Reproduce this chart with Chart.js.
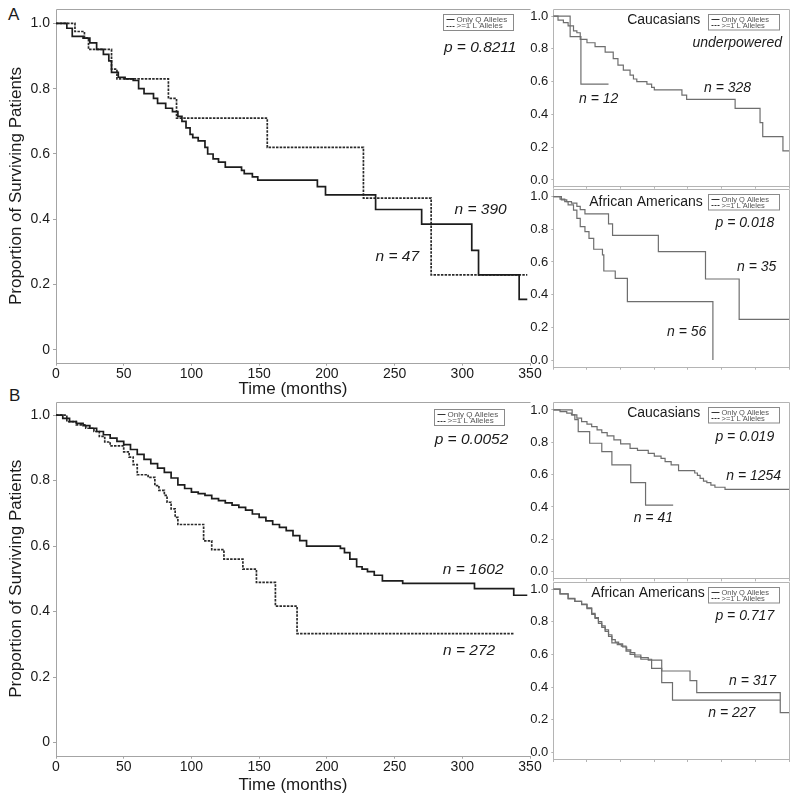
<!DOCTYPE html>
<html lang="en">
<head>
<meta charset="UTF-8">
<title>Survival by allele group</title>
<script src="https://cdn.jsdelivr.net/npm/chart.js"></script>
<style>
  body { margin: 0; width: 800px; height: 797px; position: relative; overflow: hidden; background: #fff;
         font-family: "Liberation Sans", Arial, sans-serif; }
  canvas { position: absolute; }
  .tag { position: absolute; font-size: 17px; line-height: 17px; color: #1a1a1a; }
</style>
</head>
<body>
<div class="tag" style="left:8px;top:6px">A</div>
<div class="tag" style="left:9px;top:387px">B</div>

<script>
// axis ticks
const timeTicks = [0, 50, 100, 150, 200, 250, 300, 350];
const survTicks = [0, 0.2, 0.4, 0.6, 0.8, 1.0];

// A, all patients - only Q alleles (n = 390)
const aAllQTime = [0, 8, 12, 20, 25, 30, 35, 39, 41, 46, 51, 57, 61, 65, 72, 75, 81, 86, 90, 93, 96, 99, 101, 105, 110, 112, 116, 120, 125, 137, 139, 145, 149, 193, 199, 236, 270, 307, 312, 342, 348];
const aAllQSurv = [1, 0.985, 0.96, 0.955, 0.94, 0.92, 0.905, 0.885, 0.85, 0.835, 0.83, 0.825, 0.80, 0.785, 0.77, 0.755, 0.74, 0.73, 0.715, 0.70, 0.68, 0.66, 0.65, 0.64, 0.62, 0.60, 0.585, 0.575, 0.56, 0.55, 0.54, 0.53, 0.52, 0.50, 0.475, 0.43, 0.385, 0.305, 0.23, 0.155, 0.155];
// A, all patients - >=1 L allele (n = 47)
const aAllLTime = [0, 14, 21, 24, 41, 45, 83, 89, 156, 227, 277, 348];
const aAllLSurv = [1, 0.975, 0.955, 0.92, 0.86, 0.83, 0.77, 0.71, 0.62, 0.465, 0.23, 0.23];

// A, Caucasians
const aCauQTime = [0, 7, 15, 22, 30, 35, 40, 50, 62, 77, 89, 96, 104, 114, 119, 124, 139, 146, 150, 191, 198, 270, 307, 311, 341, 350];
const aCauQSurv = [1, 0.975, 0.96, 0.94, 0.91, 0.898, 0.858, 0.837, 0.813, 0.78, 0.74, 0.70, 0.67, 0.64, 0.616, 0.60, 0.585, 0.565, 0.549, 0.518, 0.492, 0.437, 0.35, 0.264, 0.177, 0.177];
const aCauLTime = [0, 25, 41, 82];
const aCauLSurv = [1, 0.875, 0.585, 0.585];

// A, African Americans
const aAfrQTime = [0, 12, 20, 27, 35, 40, 47, 82, 88, 156, 226, 276, 350];
const aAfrQSurv = [1, 0.98, 0.97, 0.96, 0.94, 0.92, 0.895, 0.833, 0.763, 0.663, 0.496, 0.249, 0.249];
const aAfrLTime = [0, 10, 17, 22, 30, 35, 40, 47, 53, 60, 73, 75, 92, 110, 237];
const aAfrLSurv = [1, 0.985, 0.97, 0.95, 0.918, 0.867, 0.816, 0.786, 0.745, 0.678, 0.643, 0.545, 0.50, 0.357, 0];

// B, all patients - only Q alleles (n = 1602)
const bAllQTime = [0, 5, 10, 15, 20, 25, 30, 35, 40, 45, 50, 55, 60, 65, 70, 75, 80, 85, 90, 95, 100, 105, 110, 115, 120, 125, 130, 135, 140, 145, 150, 155, 160, 165, 170, 175, 180, 185, 210, 213, 217, 222, 226, 230, 235, 241, 256, 309, 338, 348];
const bAllQSurv = [1, 0.99, 0.98, 0.975, 0.968, 0.96, 0.95, 0.94, 0.93, 0.92, 0.91, 0.895, 0.88, 0.865, 0.852, 0.838, 0.825, 0.808, 0.787, 0.776, 0.765, 0.76, 0.755, 0.745, 0.739, 0.732, 0.725, 0.718, 0.71, 0.698, 0.688, 0.677, 0.666, 0.657, 0.647, 0.632, 0.617, 0.60, 0.593, 0.58, 0.56, 0.537, 0.53, 0.522, 0.511, 0.494, 0.486, 0.47, 0.45, 0.45];
// B, all patients - >=1 L allele (n = 272)
const bAllLTime = [0, 8, 15, 22, 28, 32, 36, 40, 50, 54, 57, 60, 68, 73, 76, 80, 82, 85, 88, 90, 109, 115, 124, 138, 148, 162, 178, 338];
const bAllLSurv = [1, 0.98, 0.97, 0.96, 0.95, 0.935, 0.918, 0.906, 0.888, 0.872, 0.849, 0.818, 0.81, 0.785, 0.77, 0.755, 0.734, 0.714, 0.688, 0.666, 0.616, 0.589, 0.56, 0.53, 0.489, 0.417, 0.333, 0.333];

// B, Caucasians
const bCauQTime = [0, 10, 20, 27, 35, 42, 50, 57, 65, 72, 80, 90, 100, 114, 125, 141, 150, 160, 166, 175, 186, 210, 214, 218, 223, 228, 234, 240, 255, 350];
const bCauQSurv = [1, 0.99, 0.98, 0.969, 0.95, 0.928, 0.912, 0.897, 0.877, 0.86, 0.84, 0.815, 0.79, 0.763, 0.75, 0.732, 0.715, 0.70, 0.68, 0.66, 0.625, 0.61, 0.595, 0.577, 0.56, 0.55, 0.535, 0.522, 0.509, 0.509];
const bCauLTime = [0, 28, 32, 37, 54, 72, 87, 115, 137, 178];
const bCauLSurv = [1, 0.97, 0.94, 0.866, 0.794, 0.742, 0.66, 0.55, 0.412, 0.412];

// B, African Americans
const bAfrQTime = [0, 10, 22, 32, 42, 50, 57, 62, 67, 72, 77, 82, 87, 92, 97, 103, 109, 115, 121, 130, 141, 161, 203, 213, 337, 350];
const bAfrQSurv = [1, 0.97, 0.943, 0.925, 0.908, 0.885, 0.851, 0.825, 0.80, 0.775, 0.75, 0.72, 0.69, 0.675, 0.665, 0.645, 0.627, 0.61, 0.596, 0.58, 0.565, 0.498, 0.439, 0.365, 0.243, 0.243];
const bAfrLTime = [0, 10, 22, 32, 42, 50, 57, 62, 67, 72, 77, 82, 87, 95, 101, 108, 114, 121, 130, 146, 161, 177, 337];
const bAfrLSurv = [1, 0.97, 0.94, 0.925, 0.905, 0.88, 0.845, 0.82, 0.79, 0.765, 0.74, 0.71, 0.67, 0.66, 0.65, 0.62, 0.60, 0.585, 0.57, 0.514, 0.427, 0.32, 0.32];

const legendLabels = ['Only Q Alleles', '>=1 L Alleles'];
const FONT = '"Liberation Sans", Arial, sans-serif';

function km(times, surv) {
  return times.map((t, i) => ({ x: t, y: surv[i] }));
}

function panel(cfg) {
  const cv = document.createElement('canvas');
  cv.width = cfg.box.w;
  cv.height = cfg.box.h;
  cv.style.left = cfg.box.x + 'px';
  cv.style.top = cfg.box.y + 'px';
  document.body.appendChild(cv);

  const big = cfg.big;
  const lineCol = big ? '#1c1c1c' : '#6e6e6e';
  const frameCol = big ? '#a4a4a4' : '#b4b4b4';

  // frame, notes and little legend box
  const extras = {
    id: 'extras',
    beforeDatasetsDraw(chart) {
      const { ctx, chartArea: a } = chart;
      ctx.save();
      ctx.strokeStyle = frameCol;
      ctx.lineWidth = 1;
      ctx.beginPath();
      ctx.moveTo(Math.round(a.left) + 0.5, Math.round(a.bottom) + 0.5);
      ctx.lineTo(Math.round(a.left) + 0.5, Math.round(a.top) + 0.5);
      ctx.lineTo(Math.round(a.right) + 0.5, Math.round(a.top) + 0.5);
      if (!big) ctx.lineTo(Math.round(a.right) + 0.5, Math.round(a.bottom) + 0.5);
      ctx.moveTo(Math.round(a.left) + 0.5, Math.round(a.bottom) + 0.5);
      ctx.lineTo(Math.round(a.right) + 0.5, Math.round(a.bottom) + 0.5);
      ctx.stroke();
      ctx.restore();
    },
    afterDatasetsDraw(chart) {
      const { ctx, chartArea: a, scales } = chart;
      ctx.save();
      ctx.fillStyle = '#1a1a1a';
      ctx.textBaseline = 'middle';
      cfg.notes.forEach(n => {
        ctx.font = (n.italic ? 'italic ' : '') + n.size + 'px ' + FONT;
        ctx.textAlign = n.align || 'center';
        ctx.fillText(n.text, scales.x.getPixelForValue(n.x), scales.y.getPixelForValue(n.y));
      });
      // legend box
      const lg = cfg.legend;
      const x0 = Math.round(a.right - lg.dx - lg.w) + 0.5;
      const y0 = Math.round(a.top + lg.dy) + 0.5;
      ctx.fillStyle = '#fff';
      ctx.fillRect(x0, y0, lg.w, lg.h);
      ctx.strokeStyle = '#8a8a8a';
      ctx.lineWidth = 1;
      ctx.strokeRect(x0, y0, lg.w, lg.h);
      ctx.font = lg.font + 'px ' + FONT;
      ctx.textAlign = 'left';
      ctx.fillStyle = '#555';
      legendLabels.forEach((lab, i) => {
        const ry = y0 + lg.h * (i === 0 ? 0.3 : 0.7);
        ctx.strokeStyle = '#333';
        ctx.setLineDash(i === 0 ? [] : [2, 1]);
        ctx.beginPath();
        ctx.moveTo(x0 + 3, Math.round(ry) + 0.5);
        ctx.lineTo(x0 + 11, Math.round(ry) + 0.5);
        ctx.stroke();
        ctx.fillText(lab, x0 + 13, ry + 0.5);
      });
      ctx.restore();
    }
  };

  const ds = cfg.curves.map((c, i) => ({
    data: km(c[0], c[1]),
    stepped: 'before',
    borderColor: big && i === 1 ? '#2a2a2a' : lineCol,
    borderWidth: big ? 1.7 : 1.2,
    borderDash: big && i === 1 ? [2.5, 1.2] : [],
    pointRadius: 0,
    fill: false
  }));

  const area = cfg.area, box = cfg.box;
  return new Chart(cv, {
    type: 'line',
    data: { datasets: ds },
    options: {
      responsive: false,
      animation: false,
      devicePixelRatio: 1,
      layout: { padding: { left: 0, bottom: 0, top: area.t - box.y, right: box.x + box.w - area.r } },
      plugins: { legend: { display: false }, tooltip: { enabled: false } },
      scales: {
        x: {
          type: 'linear', min: 0, max: 350,
          afterBuildTicks: s => { s.ticks = timeTicks.map(v => ({ value: v })); },
          afterFit: s => { s.height = box.y + box.h - area.b; s.paddingLeft = 0; s.paddingRight = 0; },
          border: { display: false },
          grid: { drawOnChartArea: false, drawTicks: true, tickLength: 3, color: frameCol },
          ticks: { display: big, padding: 0, color: '#1a1a1a', font: { family: FONT, size: 14 } },
          title: { display: big, text: 'Time (months)', color: '#1a1a1a', font: { family: FONT, size: 17 },
                   padding: { top: 0, bottom: cfg.xTitlePad || 0 } }
        },
        y: {
          type: 'linear', min: cfg.yMin, max: cfg.yMax,
          afterBuildTicks: s => { s.ticks = survTicks.map(v => ({ value: v })); },
          afterFit: s => { s.width = area.l - box.x; s.paddingTop = 0; s.paddingBottom = 0; },
          border: { display: false },
          grid: { drawOnChartArea: false, drawTicks: true, tickLength: big ? 3 : 2, color: frameCol },
          ticks: {
            padding: 3, color: '#1a1a1a', font: { family: FONT, size: big ? 14 : 13 },
            callback: v => (big && v === 0) ? '0' : v.toFixed(1)
          },
          title: { display: big, text: 'Proportion of Surviving Patients', color: '#1a1a1a',
                   font: { family: FONT, size: 17 }, padding: { top: 6.5, bottom: 0 } }
        }
      }
    },
    plugins: [extras]
  });
}

const mainLegend = { w: 70, h: 16, font: 8 };
const smallLegend = { dx: 10, dy: 5, w: 71, h: 15.5, font: 7.5 };

panel({
  big: true,
  box: { x: 0, y: 0, w: 545, h: 400 },
  area: { l: 56, t: 9.3, r: 530, b: 362.7 },
  yMin: -0.039, yMax: 1.043,
  curves: [[aAllQTime, aAllQSurv], [aAllLTime, aAllLSurv]],
  legend: Object.assign({ dx: 17.3, dy: 5 }, mainLegend),
  notes: [
    { text: 'p = 0.8211', x: 340, y: 0.925, align: 'right', italic: true, size: 15.5 },
    { text: 'n = 390', x: 313.5, y: 0.43, italic: true, size: 15.5 },
    { text: 'n = 47', x: 252, y: 0.285, italic: true, size: 15.5 }
  ]
});

panel({
  big: true,
  box: { x: 0, y: 396, w: 545, h: 401 },
  area: { l: 56, t: 401.7, r: 530, b: 755.7 },
  yMin: -0.04, yMax: 1.041,
  xTitlePad: 1,
  curves: [[bAllQTime, bAllQSurv], [bAllLTime, bAllLSurv]],
  legend: Object.assign({ dx: 25.6, dy: 7 }, mainLegend),
  notes: [
    { text: 'p = 0.0052', x: 334, y: 0.926, align: 'right', italic: true, size: 15.5 },
    { text: 'n = 1602', x: 308, y: 0.527, italic: true, size: 15.5 },
    { text: 'n = 272', x: 305, y: 0.282, italic: true, size: 15.5 }
  ]
});

panel({
  box: { x: 520, y: 0, w: 280, h: 190 },
  area: { l: 553.3, t: 9, r: 789, b: 185.7 },
  yMin: -0.035, yMax: 1.043,
  curves: [[aCauQTime, aCauQSurv], [aCauLTime, aCauLSurv]],
  legend: smallLegend,
  notes: [
    { text: 'Caucasians', x: 164, y: 0.976, size: 14 },
    { text: 'underpowered', x: 339.6, y: 0.835, align: 'right', italic: true, size: 14 },
    { text: 'n = 12', x: 67.4, y: 0.494, italic: true, size: 14 },
    { text: 'n = 328', x: 258.7, y: 0.563, italic: true, size: 14 }
  ]
});

panel({
  box: { x: 520, y: 186, w: 280, h: 185 },
  area: { l: 553.3, t: 189.3, r: 789, b: 366.7 },
  yMin: -0.041, yMax: 1.045,
  curves: [[aAfrQTime, aAfrQSurv], [aAfrLTime, aAfrLSurv]],
  legend: smallLegend,
  notes: [
    { text: 'African Americans', x: 137.7, y: 0.969, size: 14 },
    { text: 'p = 0.018', x: 328.2, y: 0.837, align: 'right', italic: true, size: 14 },
    { text: 'n = 35', x: 302, y: 0.567, italic: true, size: 14 },
    { text: 'n = 56', x: 198, y: 0.173, italic: true, size: 14 }
  ]
});

panel({
  box: { x: 520, y: 396, w: 280, h: 186 },
  area: { l: 553.3, t: 401.7, r: 789, b: 578.3 },
  yMin: -0.041, yMax: 1.051,
  curves: [[bCauQTime, bCauQSurv], [bCauLTime, bCauLSurv]],
  legend: smallLegend,
  notes: [
    { text: 'Caucasians', x: 164, y: 0.983, size: 14 },
    { text: 'p = 0.019', x: 328, y: 0.831, align: 'right', italic: true, size: 14 },
    { text: 'n = 1254', x: 297.6, y: 0.592, italic: true, size: 14 },
    { text: 'n = 41', x: 148.5, y: 0.33, italic: true, size: 14 }
  ]
});

panel({
  box: { x: 520, y: 578, w: 280, h: 185 },
  area: { l: 553.3, t: 581.7, r: 789, b: 759 },
  yMin: -0.041, yMax: 1.045,
  curves: [[bAfrQTime, bAfrQSurv], [bAfrLTime, bAfrLSurv]],
  legend: smallLegend,
  notes: [
    { text: 'African Americans', x: 140.6, y: 0.977, size: 14 },
    { text: 'p = 0.717', x: 328, y: 0.835, align: 'right', italic: true, size: 14 },
    { text: 'n = 317', x: 295.8, y: 0.438, italic: true, size: 14 },
    { text: 'n = 227', x: 265, y: 0.243, italic: true, size: 14 }
  ]
});
</script>
</body>
</html>
